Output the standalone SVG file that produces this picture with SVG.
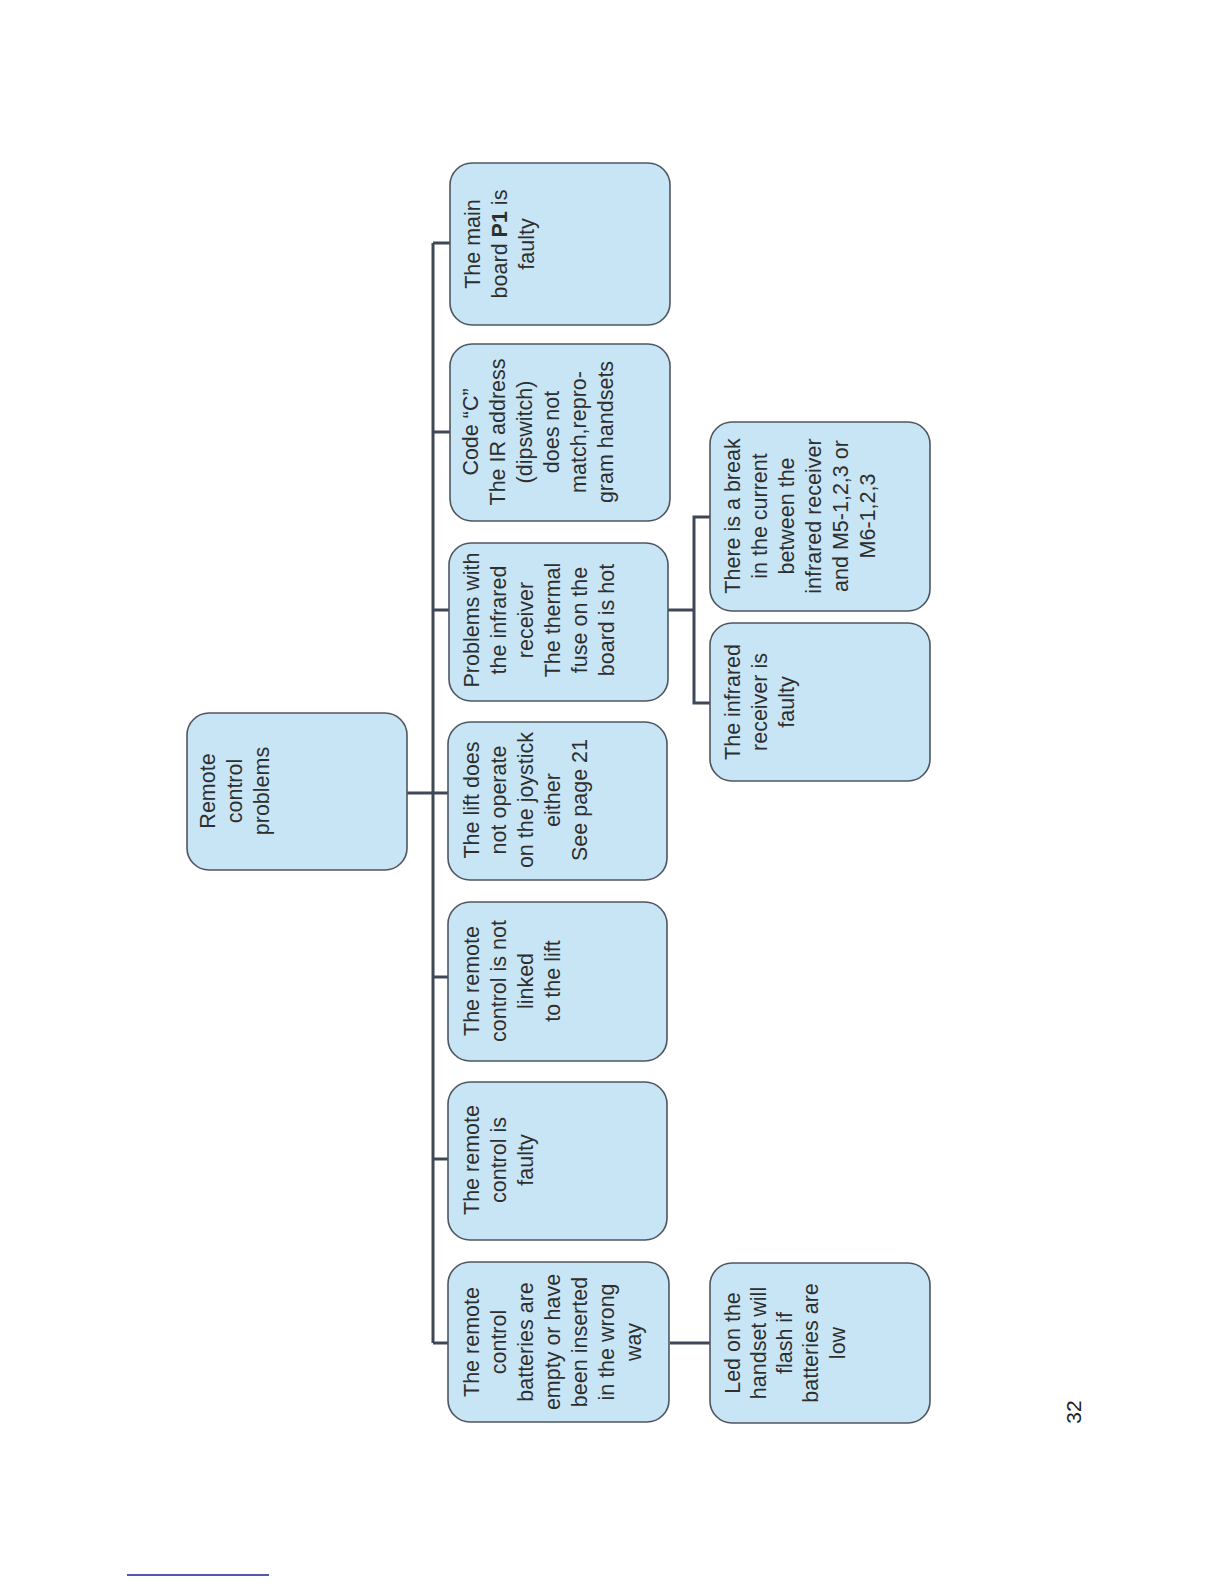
<svg xmlns="http://www.w3.org/2000/svg" width="1224" height="1584" viewBox="0 0 1224 1584">
<style>
.box{fill:#c7e5f5;stroke:#505560;stroke-width:1.6}
.lbl{font-family:"Liberation Sans",Arial,sans-serif;font-size:21.5px;fill:#2e2e2e;text-anchor:middle}
.con{stroke:#3e4858;stroke-width:3;fill:none}
</style>
<rect width="1224" height="1584" fill="#ffffff"/>
<g id="connectors">
<path class="con" d="M407,793 H450"/>
<path class="con" d="M433,243 V1343"/>
<path class="con" d="M433,243 H450"/>
<path class="con" d="M433,432 H450"/>
<path class="con" d="M433,610 H450"/>
<path class="con" d="M433,977 H450"/>
<path class="con" d="M433,1159 H450"/>
<path class="con" d="M433,1343 H450"/>
<path class="con" d="M670,1343 H710"/>
<path class="con" d="M668,610 H694"/>
<path class="con" d="M710,517 H694 V703 H710"/>
</g>
<g id="root">
<rect class="box" x="187" y="713" width="220" height="157" rx="22"/>
<text class="lbl" transform="translate(215,791) rotate(-90)"><tspan x="0" y="0">Remote</tspan><tspan x="0" dy="27">control</tspan><tspan x="0" dy="27">problems</tspan></text>
</g>
<g id="main-board">
<rect class="box" x="450" y="163" width="220" height="162" rx="22"/>
<text class="lbl" transform="translate(480,244) rotate(-90)"><tspan x="0" y="0">The main</tspan><tspan x="0" dy="27">board <tspan font-weight="bold">P1</tspan> is</tspan><tspan x="0" dy="27">faulty</tspan></text>
</g>
<g id="code-c">
<rect class="box" x="450" y="344" width="220" height="177" rx="22"/>
<text class="lbl" transform="translate(478,432) rotate(-90)"><tspan x="0" y="0">Code “C”</tspan><tspan x="0" dy="27">The IR address</tspan><tspan x="0" dy="27">(dipswitch)</tspan><tspan x="0" dy="27">does not</tspan><tspan x="0" dy="27">match,repro-</tspan><tspan x="0" dy="27">gram handsets</tspan></text>
</g>
<g id="infrared-problems">
<rect class="box" x="449" y="543" width="219" height="158" rx="22"/>
<text class="lbl" transform="translate(479,620) rotate(-90)"><tspan x="0" y="0">Problems with</tspan><tspan x="0" dy="27">the infrared</tspan><tspan x="0" dy="27">receiver</tspan><tspan x="0" dy="27">The thermal</tspan><tspan x="0" dy="27">fuse on the</tspan><tspan x="0" dy="27">board is hot</tspan></text>
</g>
<g id="lift-joystick">
<rect class="box" x="448" y="722" width="219" height="158" rx="22"/>
<text class="lbl" transform="translate(479,800) rotate(-90)"><tspan x="0" y="0">The lift does</tspan><tspan x="0" dy="27">not operate</tspan><tspan x="0" dy="27">on the joystick</tspan><tspan x="0" dy="27">either</tspan><tspan x="0" dy="27">See page 21</tspan></text>
</g>
<g id="not-linked">
<rect class="box" x="448" y="902" width="219" height="159" rx="22"/>
<text class="lbl" transform="translate(479,981) rotate(-90)"><tspan x="0" y="0">The remote</tspan><tspan x="0" dy="27">control is not</tspan><tspan x="0" dy="27">linked</tspan><tspan x="0" dy="27">to the lift</tspan></text>
</g>
<g id="remote-faulty">
<rect class="box" x="448" y="1082" width="219" height="158" rx="22"/>
<text class="lbl" transform="translate(479,1160) rotate(-90)"><tspan x="0" y="0">The remote</tspan><tspan x="0" dy="27">control is</tspan><tspan x="0" dy="27">faulty</tspan></text>
</g>
<g id="batteries">
<rect class="box" x="448" y="1262" width="221" height="160" rx="22"/>
<text class="lbl" transform="translate(479,1342) rotate(-90)"><tspan x="0" y="0">The remote</tspan><tspan x="0" dy="27">control</tspan><tspan x="0" dy="27">batteries are</tspan><tspan x="0" dy="27">empty or have</tspan><tspan x="0" dy="27">been inserted</tspan><tspan x="0" dy="27">in the wrong</tspan><tspan x="0" dy="27">way</tspan></text>
</g>
<g id="led-flash">
<rect class="box" x="710" y="1263" width="220" height="160" rx="22"/>
<text class="lbl" transform="translate(740,1343) rotate(-90)"><tspan x="0" y="0">Led on the</tspan><tspan x="0" dy="26">handset will</tspan><tspan x="0" dy="26">flash if</tspan><tspan x="0" dy="26">batteries are</tspan><tspan x="0" dy="27">low</tspan></text>
</g>
<g id="current-break">
<rect class="box" x="710" y="422" width="220" height="189" rx="22"/>
<text class="lbl" transform="translate(740,516) rotate(-90)"><tspan x="0" y="0">There is a break</tspan><tspan x="0" dy="27">in the current</tspan><tspan x="0" dy="27">between the</tspan><tspan x="0" dy="27">infrared receiver</tspan><tspan x="0" dy="27">and M5-1,2,3 or</tspan><tspan x="0" dy="27">M6-1,2,3</tspan></text>
</g>
<g id="receiver-faulty">
<rect class="box" x="710" y="623" width="220" height="158" rx="22"/>
<text class="lbl" transform="translate(740,702) rotate(-90)"><tspan x="0" y="0">The infrared</tspan><tspan x="0" dy="27">receiver is</tspan><tspan x="0" dy="27">faulty</tspan></text>
</g>
<text transform="translate(1081,1412) rotate(-90)" font-family="Liberation Sans, Arial, sans-serif" font-size="21" fill="#222" text-anchor="middle">32</text>
<line x1="127" y1="1575" x2="269" y2="1575" stroke="#1c1c9a" stroke-width="1.6"/>
</svg>
